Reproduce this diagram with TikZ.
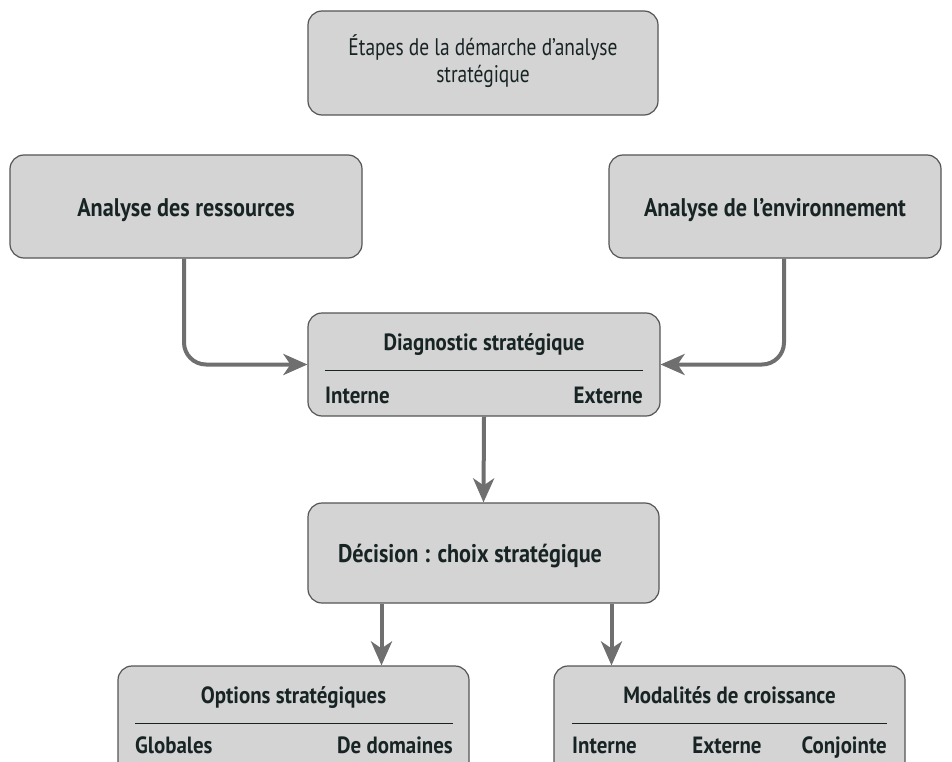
\documentclass[tikz,border=0pt]{standalone}
\usepackage{fontspec}
\setmainfont{PT Sans}[FakeStretch=0.89]
\newfontfamily\titlefont{PT Sans}[FakeStretch=0.81]
\newfontfamily\boxfont{PT Sans}[FakeStretch=0.87]
\usetikzlibrary{arrows.meta}
\definecolor{boxfill}{HTML}{D4D4D4}
\definecolor{boxline}{HTML}{555555}
\definecolor{arrowgray}{HTML}{6F6F6F}
\definecolor{ink}{HTML}{182424}
\tikzset{
  box/.style={draw=boxline, line width=1.2pt, fill=boxfill, rounded corners=14pt,
    inner sep=0pt},
  flow/.style={draw=arrowgray, line width=4pt, rounded corners=22pt,
    -{Stealth[length=24pt,width=21pt,inset=7pt]}},
  lbl/.style={text=ink, font=\fontsize{23.5}{28}\selectfont\bfseries, inner sep=0pt},
  biglbl/.style={text=ink, font=\boxfont\fontsize{25.5}{30}\selectfont\bfseries, inner sep=0pt, anchor=base},
  titlelbl/.style={text=ink, font=\titlefont\fontsize{24}{27}\selectfont, inner sep=0pt, anchor=base},
  rule/.style={draw=ink, line width=1pt}
}
\begin{document}
\begin{tikzpicture}[x=1pt,y=-1pt]
\useasboundingbox (0,0) rectangle (952,762);
\clip (0,0) rectangle (952,762);

% boxes
\node[box, minimum width=350pt, minimum height=104pt] (top) at (483,63) {};
\node[box, minimum width=352pt, minimum height=103pt] (res) at (186,206.5) {};
\node[box, minimum width=332pt, minimum height=103pt] (env) at (775,206.5) {};
\node[box, minimum width=352pt, minimum height=103pt] (diag) at (484,364.5) {};
\node[box, minimum width=351pt, minimum height=100pt] (dec) at (483.5,553) {};
\node[box, minimum width=351pt, minimum height=114pt] (opt) at (293.5,723) {};
\node[box, minimum width=351pt, minimum height=114pt] (mod) at (729.5,723) {};

% single-label contents
\node[titlelbl] (topA) at (483,56) {Étapes de la démarche d’analyse};
\node[titlelbl] (topB) at (483,83) {stratégique};
\node[biglbl] (resT) at (186,216) {Analyse des ressources};
\node[biglbl] (envT) at (775,216) {Analyse de l’environnement};
\node[biglbl] (decT) at (470,562.5) {Décision : choix stratégique};

% diagnostic contents
\node[lbl, anchor=base] (diagT) at (484,350) {Diagnostic stratégique};
\draw[rule] (325,370) -- (643,370);
\node[lbl, anchor=base west] (diagI) at (325,403) {Interne};
\node[lbl, anchor=base east] (diagE) at (643,403) {Externe};

% strategic options contents
\node[lbl, anchor=base] (optT) at (293.5,703) {Options stratégiques};
\draw[rule] (135,723) -- (453,723);
\node[lbl, anchor=base west] (optG) at (135,753) {Globales};
\node[lbl, anchor=base east] (optD) at (453,753) {De domaines};

% growth modes contents
\node[lbl, anchor=base] (modT) at (729.5,703) {Modalités de croissance};
\draw[rule] (572,723) -- (887,723);
\node[lbl, anchor=base west] (modI) at (572,753) {Interne};
\node[lbl, anchor=base] (modE) at (727,753) {Externe};
\node[lbl, anchor=base east] (modC) at (887,753) {Conjointe};

% connectors
\draw[flow] ([xshift=-2pt]res.south) |- (diag.west);
\draw[flow] ([xshift=9pt]env.south) |- (diag.east);
\draw[flow] (diag.south) -- (dec.north);
\coordinate (d1) at ([xshift=-102pt]dec.south);
\coordinate (d2) at ([xshift=128pt]dec.south);
\draw[flow] (d1) -- (d1 |- opt.north);
\draw[flow] (d2) -- (d2 |- mod.north);
\end{tikzpicture}
\end{document}
